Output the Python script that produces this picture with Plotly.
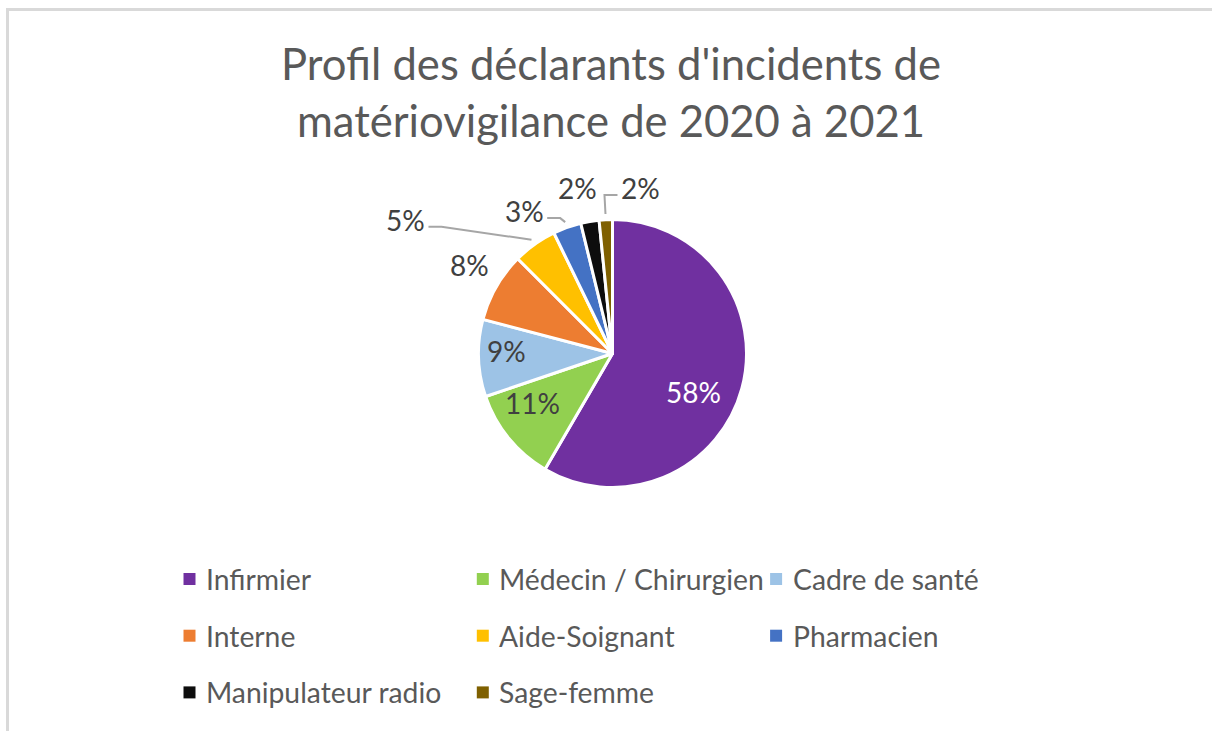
import math
import plotly.graph_objects as go

# ---------------- data ----------------
categories = ["Infirmier", "Médecin / Chirurgien", "Cadre de santé", "Interne",
              "Aide-Soignant", "Pharmacien", "Manipulateur radio", "Sage-femme"]
shares = [58.4, 11.4, 9.3, 8.4, 5.3, 3.4, 2.2, 1.6]
colors = ["#7030A0", "#92D050", "#9DC3E6", "#ED7D31",
          "#FFC000", "#4472C4", "#0D0D0D", "#7F6000"]
title_text = "Profil des déclarants d'incidents de<br>matériovigilance de 2020 à 2021"

# ---------------- layout helpers ----------------
W, H = 1212, 731
CX, CY, R = 612.5, 353.5, 134.0      # pie centre / radius in pixels
FONT = "Lato, 'Open Sans', sans-serif"

def px(x):
    return x / W

def py(y):
    return 1 - y / H

# label placement: radial factor + pixel nudge (layout only)
label_radius = [0.6, 0.6, 0.6, 1.05, 1.05, 1.05, 1.05, 1.05]
label_nudge = [(3.5, 17.7), (-18, -1), (-26, -5), (-22, -19),
               (-126, -20), (-41, -11), (-11, -28), (35, -26)]
leader = [False, False, False, False, True, True, False, True]
label_colors = ["white"] + ["#404040"] * 7

total = sum(shares)
cum = 0.0
mids = []
for v in shares:
    a0 = cum / total * 360
    cum += v
    a1 = cum / total * 360
    mids.append((a0 + a1) / 2)

fig = go.Figure()
fig.add_trace(go.Pie(
    labels=categories, values=shares, sort=False, direction="clockwise",
    rotation=0, textinfo="none", hoverinfo="label+percent", showlegend=False,
    marker=dict(colors=colors, line=dict(color="white", width=3)),
    domain=dict(x=[px(CX - R), px(CX + R)], y=[py(CY + R), py(CY - R)]),
))

annotations = []
shapes = []
Rv = R - 1
for i, v in enumerate(shares):
    th = math.radians(mids[i])
    ax = CX + label_radius[i] * Rv * math.sin(th)
    ay = CY - label_radius[i] * Rv * math.cos(th)
    lx = ax + label_nudge[i][0]
    ly = ay + label_nudge[i][1]
    pct = int(v / total * 100 + 0.5)
    annotations.append(dict(
        x=px(lx), y=py(ly), xref="paper", yref="paper", text=f"{pct}%",
        showarrow=False, xanchor="center", yanchor="middle",
        font=dict(family=FONT, size=28, color=label_colors[i])))
    if leader[i]:
        side = 1 if lx < ax else -1
        sx = lx + side * 23
        sy = ly + 7
        ex = sx + side * 13
        if side == -1:
            ex = min(ex, ax + 0)
        path = f"M {px(sx)},{py(sy)} L {px(ex)},{py(sy)} L {px(ax)},{py(ay)}"
        shapes.append(dict(type="path", xref="paper", yref="paper", path=path,
                           line=dict(color="#A6A6A6", width=2)))

# manual legend grid (3 columns)
col_x0, col_step = 189.5, 293.3
row_y0, row_step = 579.0, 56.7
for i, name in enumerate(categories):
    r, c = divmod(i, 3)
    mx = col_x0 + c * col_step
    my = row_y0 + r * row_step
    shapes.append(dict(type="rect", xref="paper", yref="paper",
                       x0=px(mx - 6), x1=px(mx + 6), y0=py(my + 6), y1=py(my - 6),
                       fillcolor=colors[i], line=dict(width=0)))
    annotations.append(dict(
        x=px(mx + 14.5), y=py(my), xref="paper", yref="paper", text=name,
        showarrow=False, xanchor="left", yanchor="middle",
        font=dict(family=FONT, size=28.3, color="#595959")))

# chart-area frame (left and top edges visible)
shapes.append(dict(type="rect", xref="paper", yref="paper",
                   x0=px(7.5), y0=py(9.5), x1=1.02, y1=-0.03,
                   line=dict(color="#D9D9D9", width=3), fillcolor="rgba(0,0,0,0)"))

fig.update_layout(
    width=W, height=H,
    margin=dict(l=0, r=0, t=0, b=0),
    paper_bgcolor="white", plot_bgcolor="white",
    title=dict(text=title_text, x=px(611), xanchor="center",
               y=py(80), yanchor="top",
               font=dict(family=FONT, size=43.6, color="#595959")),
    annotations=annotations, shapes=shapes,
    showlegend=False,
)

fig.write_html("out.html", config={"displayModeBar": False},
               post_script="document.body.style.margin='0';document.body.style.overflow='hidden';")
